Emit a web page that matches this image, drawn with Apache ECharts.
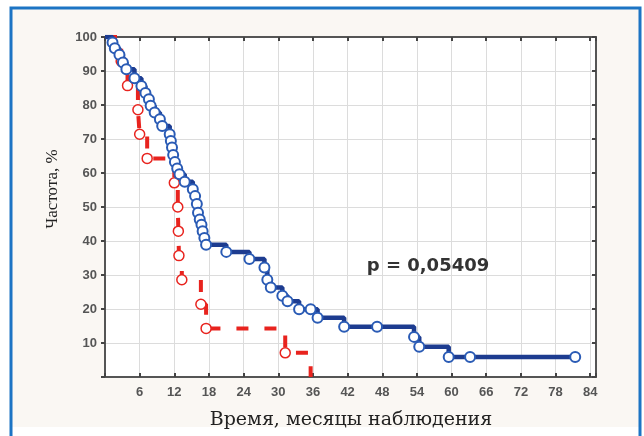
<!DOCTYPE html>
<html>
<head>
<meta charset="utf-8">
<script src="https://cdn.jsdelivr.net/npm/echarts@6/dist/echarts.min.js"></script>
<style>
    html, body { margin: 0; padding: 0; background: #fff; }
    #chart { width: 644px; height: 436px; }
</style>
</head>
<body>
<div id="chart"></div>
<script>
// группа 1 (синяя): время, мес. и кумулятивная доля, %
const blueTime = [0, 1.3, 1.7, 2.5, 3.1, 3.7, 5.1, 6.3, 7.0, 7.6, 7.9, 8.6, 9.5, 9.9, 11.2, 11.4, 11.6, 11.8, 12.1, 12.5, 12.9, 13.8, 15.2, 15.6, 15.9, 16.1, 16.4, 16.7, 16.9, 17.2, 17.5, 21.0, 25.0, 27.6, 28.1, 28.7, 30.7, 31.6, 33.6, 35.6, 36.8, 41.4, 47.1, 53.5, 54.4, 59.5, 63.2, 81.4];
const blueSurv = [100, 98.4, 96.7, 94.8, 92.5, 90.5, 87.9, 85.6, 83.5, 81.7, 79.8, 77.8, 75.8, 73.8, 71.4, 69.4, 67.5, 65.3, 63.2, 61.3, 59.6, 57.4, 55.2, 53.2, 50.9, 48.3, 46.3, 44.8, 42.9, 40.9, 38.9, 36.8, 34.7, 32.2, 28.6, 26.3, 23.9, 22.3, 19.9, 19.9, 17.4, 14.8, 14.8, 11.8, 8.9, 5.9, 5.9, 5.9];

// группа 2 (красная)
const redTime = [0, 2.8, 3.9, 5.7, 6.0, 7.3, 12.0, 12.6, 12.7, 12.8, 13.3, 16.6, 17.5, 31.2, 35.6];
const redSurv = [100, 92.9, 85.7, 78.6, 71.4, 64.3, 57.1, 50, 42.9, 35.7, 28.6, 21.4, 14.3, 7.1, 0];

const xTicks = [6, 12, 18, 24, 30, 36, 42, 48, 54, 60, 66, 72, 78, 84];
const yTicks = [10, 20, 30, 40, 50, 60, 70, 80, 90, 100];
const pText = "p = 0,05409";

let bluePts = blueTime.map((t, i) => [t, blueSurv[i]]);
let redPts = redTime.map((t, i) => [t, redSurv[i]]);
// кружки на ступеньках (без стартовой точки и без падения до нуля)
let blueMarks = bluePts.slice(1);
let redMarks = redPts.slice(1, redPts.length - 1);

let myChart = echarts.init(document.getElementById("chart"));

let axisLine = { show: true, onZero: false, lineStyle: { color: "#555", width: 2 } };
let tickStyle = { color: "#444", width: 2 };
let labelStyle = {
    color: "#555",
    fontSize: 13,
    fontWeight: "bold",
    fontFamily: "Liberation Sans",
};
let gridLine = { show: true, lineStyle: { color: "#dcdcdc", width: 1 } };

myChart.setOption({
    animation: false,
    backgroundColor: "#fff",
    graphic: [
        {
            type: "rect",
            z: -10,
            shape: { x: 11, y: 9, width: 628, height: 418 },
            style: { fill: "#faf7f3" },
        },
        {
            type: "polyline",
            z: -5,
            shape: { points: [[11, 436], [11, 8], [640, 8], [640, 436]] },
            style: { stroke: "#1c74c4", lineWidth: 3, fill: null },
        },
        {
            type: "text",
            x: 351,
            y: 420,
            style: {
                text: "Время, месяцы наблюдения",
                align: "center",
                verticalAlign: "middle",
                fill: "#222",
                font: '19px "DejaVu Serif"',
            },
        },
        {
            type: "text",
            x: 53,
            y: 189,
            rotation: Math.PI / 2,
            style: {
                text: "Частота, %",
                align: "center",
                verticalAlign: "middle",
                fill: "#222",
                font: '17px "Liberation Serif"',
            },
        },
        {
            type: "text",
            x: 428,
            y: 266,
            z: 10,
            style: {
                text: pText,
                align: "center",
                verticalAlign: "middle",
                fill: "#333",
                font: 'bold 18px "DejaVu Sans"',
            },
        },
    ],
    grid: {
        left: 105,
        top: 37,
        right: 48,
        bottom: 59,
        show: true,
        backgroundColor: "#fff",
        borderWidth: 0,
    },
    xAxis: [
        {
            type: "value",
            position: "bottom",
            min: 0,
            max: 85,
            interval: 6,
            axisLine: axisLine,
            axisTick: { show: true, inside: true, length: 4, lineStyle: tickStyle },
            axisLabel: Object.assign({}, labelStyle, {
                margin: 9,
                formatter: (v) => (xTicks.indexOf(v) >= 0 ? String(v) : ""),
            }),
            splitLine: gridLine,
        },
        {
            type: "value",
            position: "top",
            min: 0,
            max: 85,
            interval: 6,
            axisLine: axisLine,
            axisTick: { show: true, inside: true, length: 4, lineStyle: tickStyle },
            axisLabel: { show: false },
            splitLine: { show: false },
        },
    ],
    yAxis: [
        {
            type: "value",
            position: "left",
            min: 0,
            max: 100,
            interval: 10,
            axisLine: axisLine,
            axisTick: { show: true, inside: false, length: 4, lineStyle: tickStyle },
            axisLabel: Object.assign({}, labelStyle, {
                margin: 8,
                formatter: (v) => (yTicks.indexOf(v) >= 0 ? String(v) : ""),
            }),
            splitLine: gridLine,
        },
        {
            type: "value",
            position: "right",
            min: 0,
            max: 100,
            interval: 10,
            axisLine: axisLine,
            axisTick: { show: true, inside: true, length: 4, lineStyle: tickStyle },
            axisLabel: { show: false },
            splitLine: { show: false },
        },
    ],
    series: [
        {
            type: "line",
            step: "end",
            data: redPts,
            symbol: "none",
            clip: false,
            lineStyle: { color: "#e8231e", width: 4, type: [12, 16] },
            z: 3,
        },
        {
            type: "scatter",
            data: redMarks,
            symbol: "circle",
            symbolSize: 10,
            itemStyle: { color: "#fff", opacity: 1, borderColor: "#e8231e", borderWidth: 1.5 },
            z: 4,
        },
        {
            type: "line",
            step: "end",
            data: bluePts,
            symbol: "none",
            lineStyle: { color: "#1d3c90", width: 4.5 },
            z: 5,
        },
        {
            type: "scatter",
            data: blueMarks,
            symbol: "circle",
            symbolSize: 10,
            itemStyle: { color: "#fff", opacity: 1, borderColor: "#2a5bb5", borderWidth: 2 },
            z: 6,
        },
    ],
});
</script>
</body>
</html>
